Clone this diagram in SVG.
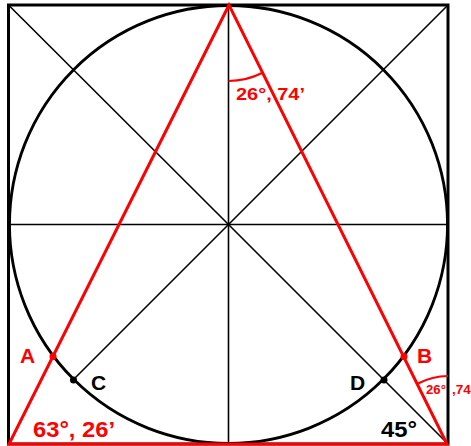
<svg xmlns="http://www.w3.org/2000/svg" width="471" height="446" viewBox="0 0 471 446">
<style>
.thin{stroke:#000;stroke-width:1.6;fill:none}
.frame{stroke:#000;stroke-width:3;fill:none}
.circ{stroke:#000;stroke-width:2.8;fill:none}
.red{stroke:#f00;stroke-width:3;fill:none}
.rarc{stroke:#f00;stroke-width:2.2;fill:none}
.lbl{font-family:"Liberation Sans",Arial,sans-serif;font-weight:bold}
.r{fill:#f00}
.k{fill:#000}
</style>
<rect width="471" height="446" fill="#fff"/>
<g id="connectors">
<line class="thin" x1="8.5" y1="5" x2="228.5" y2="224.5"/>
<line class="thin" x1="448" y1="5" x2="228.5" y2="224.5"/>
<line class="thin" x1="228.5" y1="224.5" x2="73.5" y2="379.5"/>
<line class="thin" x1="228.5" y1="224.5" x2="447" y2="443"/>
<line class="thin" x1="228.5" y1="5" x2="228.5" y2="444"/>
<line class="thin" x1="8.5" y1="224.5" x2="448" y2="224.5"/>
</g>
<g id="frame"><rect class="frame" x="8.5" y="5" width="439.5" height="439"/></g>
<g id="circle"><circle class="circ" cx="228.5" cy="224.5" r="219"/></g>
<g id="triangle">
<polygon class="red" points="229,5 9,444 447,444"/>
</g>
<g id="angle-top">
<path class="rarc" d="M228.5,81 A76,76 0 0 0 262,73"/>
<text class="lbl r" x="236" y="100" font-size="17" textLength="69" lengthAdjust="spacingAndGlyphs">26°, 74’</text>
</g>
<g id="angle-br">
<path class="rarc" d="M418,383.5 A67,67 0 0 1 448,376"/>
<text class="lbl r" x="426" y="394" font-size="13.5" textLength="20" lengthAdjust="spacingAndGlyphs">26°</text>
<text class="lbl r" x="452" y="394" font-size="13.5">,74</text>
</g>
<g id="pointA"><circle class="r" cx="53" cy="356.5" r="3.5"/><text class="lbl r" x="20" y="362.5" font-size="21">A</text></g>
<g id="pointB"><circle class="r" cx="404" cy="356.5" r="3.5"/><text class="lbl r" x="417" y="362.5" font-size="21">B</text></g>
<g id="pointC"><circle class="k" cx="73.5" cy="380" r="3.5"/><text class="lbl k" x="91" y="390" font-size="21">C</text></g>
<g id="pointD"><circle class="k" cx="384" cy="380" r="3.5"/><text class="lbl k" x="350" y="389.5" font-size="21">D</text></g>
<g id="label-63"><text class="lbl r" x="33" y="437" font-size="22" textLength="82" lengthAdjust="spacingAndGlyphs">63°, 26’</text></g>
<g id="label-45"><text class="lbl k" x="381" y="437" font-size="22" textLength="36" lengthAdjust="spacingAndGlyphs">45°</text></g>
</svg>
